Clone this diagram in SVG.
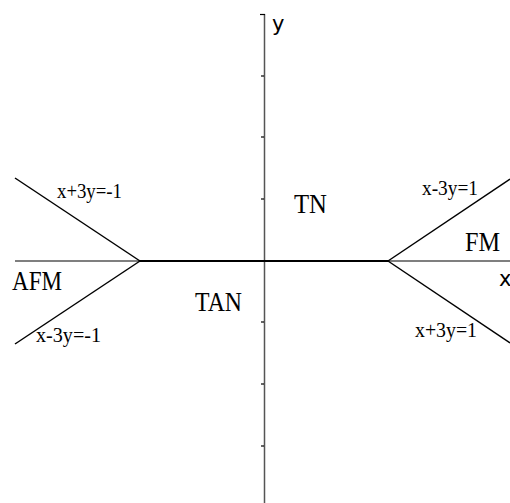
<svg xmlns="http://www.w3.org/2000/svg" width="510" height="503" viewBox="0 0 510 503">
<style>
.axis{stroke:#555;stroke-width:1.5;fill:none}
.tick{stroke:#000;stroke-width:1.2}
.bound{stroke:#000;stroke-width:1.5;fill:none}
.thick{stroke:#000;stroke-width:2.2;fill:none}
.big{font-family:"Liberation Serif",serif;font-size:28px;fill:#000}
.eq{font-family:"Liberation Serif",serif;font-size:20px;fill:#000}
.ax{font-family:"DejaVu Sans",sans-serif;font-size:21px;fill:#000}
</style>
<rect width="510" height="503" fill="#fff"/>
<g id="axes">
<line class="axis" x1="15" y1="261" x2="510" y2="261"/>
<line class="axis" x1="264.5" y1="14" x2="264.5" y2="503"/>
<line class="tick" x1="260" y1="14.5" x2="265" y2="14.5"/>
<line class="tick" x1="261" y1="76" x2="264" y2="76"/>
<line class="tick" x1="261" y1="137" x2="264" y2="137"/>
<line class="tick" x1="261" y1="199" x2="264" y2="199"/>
<line class="tick" x1="261" y1="322" x2="264" y2="322"/>
<line class="tick" x1="261" y1="384" x2="264" y2="384"/>
<line class="tick" x1="261" y1="446" x2="264" y2="446"/>
<text class="ax" x="272" y="31">y</text>
<text class="ax" x="499" y="286">x</text>
</g>
<g id="connectors">
<line class="thick" x1="140" y1="261" x2="388" y2="261"/>
<line class="bound" x1="15" y1="178" x2="140" y2="261"/>
<line class="bound" x1="15" y1="344" x2="140" y2="261"/>
<line class="bound" x1="388" y1="261" x2="510" y2="179"/>
<line class="bound" x1="388" y1="261" x2="510" y2="343"/>
</g>
<g id="labels">
<text class="eq" x="57" y="198" textLength="65" lengthAdjust="spacingAndGlyphs">x+3y=-1</text>
<text class="eq" x="36" y="342" textLength="65" lengthAdjust="spacingAndGlyphs">x-3y=-1</text>
<text class="eq" x="422" y="195" textLength="56" lengthAdjust="spacingAndGlyphs">x-3y=1</text>
<text class="eq" x="415" y="337" textLength="62" lengthAdjust="spacingAndGlyphs">x+3y=1</text>
</g>
<g id="node-AFM"><text class="big" x="12" y="290" textLength="50" lengthAdjust="spacingAndGlyphs">AFM</text></g>
<g id="node-TN"><text class="big" x="294" y="213" textLength="33" lengthAdjust="spacingAndGlyphs">TN</text></g>
<g id="node-TAN"><text class="big" x="195" y="311" textLength="47" lengthAdjust="spacingAndGlyphs">TAN</text></g>
<g id="node-FM"><text class="big" x="465" y="251" textLength="35" lengthAdjust="spacingAndGlyphs">FM</text></g>
</svg>
